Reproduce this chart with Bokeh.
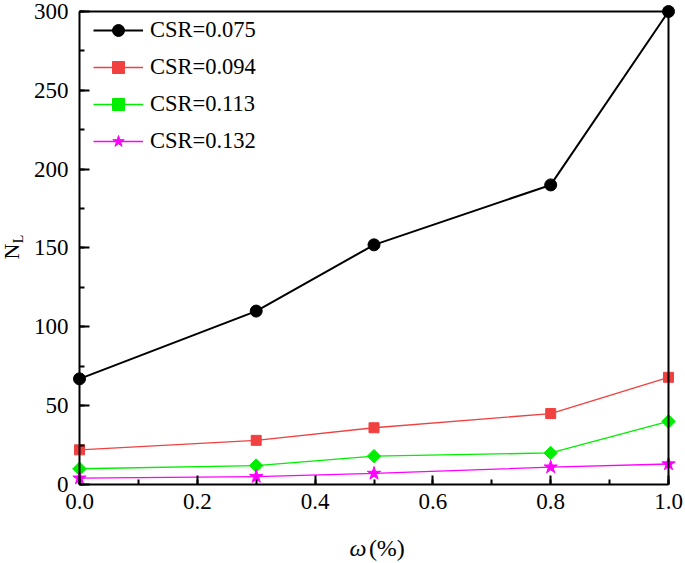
import math
from bokeh.plotting import figure
from bokeh.models import (LinearAxis, Range1d, SingleIntervalTicker, FixedTicker,
                          Legend, LegendItem, Label, CustomLabelingPolicy)
from bokeh.core.properties import value
from bokeh.embed import file_html
from bokeh.resources import INLINE

# ---- data ----
omega = [0.0, 0.3, 0.5, 0.8, 1.0]
csr_labels = ["CSR=0.075", "CSR=0.094", "CSR=0.113", "CSR=0.132"]
nl_075 = [67, 110, 152, 190, 300]
nl_094 = [22, 28, 36, 45, 68]
nl_113 = [10, 12, 18, 20, 40]
nl_132 = [4, 5, 7, 11, 13]
x_ticks = [0.0, 0.2, 0.4, 0.6, 0.8, 1.0]
x_tick_labels = ["0.0", "0.2", "0.4", "0.6", "0.8", "1.0"]
y_ticks = [0, 50, 100, 150, 200, 250, 300]
y_tick_labels = ["0", "50", "100", "150", "200", "250", "300"]
x_min, x_max = 0.0, 1.0
y_min, y_max = 0, 300

FONT = "Liberation Serif"
W, H = 685, 563

# the frame fills the whole canvas; the data box sits inside it
p = figure(width=W, height=H,
           x_range=Range1d(-0.13413, 1.02886), y_range=Range1d(-50.10, 306.97),
           x_axis_type=None, y_axis_type=None,
           output_backend="svg", toolbar_location=None,
           min_border_left=0, min_border_right=0, min_border_top=0, min_border_bottom=0)
p.outline_line_color = None
p.background_fill_color = "white"
p.border_fill_color = "white"

HIDE_ALL = """
for (const i of indices) {
    indices.unset(i)
}
return indices
"""


def style_axis(ax, tick_in=9, minor_in=5):
    ax.axis_line_color = "black"
    ax.axis_line_width = 2
    ax.major_tick_in = tick_in
    ax.major_tick_out = 0
    ax.minor_tick_in = minor_in
    ax.minor_tick_out = 0
    ax.major_tick_line_color = "black"
    ax.minor_tick_line_color = "black"
    ax.major_tick_line_width = 2
    ax.minor_tick_line_width = 2
    ax.major_label_text_font_size = "0px"
    ax.major_label_standoff = 0
    ax.major_label_policy = CustomLabelingPolicy(code=HIDE_ALL)


xax = LinearAxis(ticker=SingleIntervalTicker(interval=0.2, num_minor_ticks=2),
                 fixed_location=y_min, bounds=(x_min, x_max))
style_axis(xax)
p.add_layout(xax, "below")
yax = LinearAxis(ticker=SingleIntervalTicker(interval=50, num_minor_ticks=2),
                 fixed_location=x_min, bounds=(y_min, y_max))
style_axis(yax, tick_in=10)
p.add_layout(yax, "left")
tax = LinearAxis(ticker=FixedTicker(ticks=[]), fixed_location=y_max, bounds=(x_min, x_max))
style_axis(tax)
p.add_layout(tax, "above")
rax = LinearAxis(ticker=FixedTicker(ticks=[]), fixed_location=x_max, bounds=(y_min, y_max))
style_axis(rax)
p.add_layout(rax, "right")

# tick labels
p.text(x=x_ticks, y=[y_min] * len(x_ticks), text=x_tick_labels, y_offset=9,
       text_align="center", text_baseline="top", text_color="black",
       text_font=value(FONT), text_font_size=value("23px"))
p.text(x=[x_min] * len(y_ticks), y=y_ticks, text=y_tick_labels, x_offset=-11,
       text_align="right", text_baseline="middle", text_color="black",
       text_font=value(FONT), text_font_size=value("23px"))

# ---- series ----
series = [
    (nl_075, "black", 2.0, dict(marker="circle", size=12, angle=0)),
    (nl_094, "#F04040", 1.3, dict(marker="square", size=10, angle=0)),
    (nl_113, "#00EE00", 1.3, dict(marker="square", size=9.5, angle=math.pi / 4)),
    (nl_132, "#FF00FF", 1.3, dict(marker="star", size=14, angle=0)),
]
items = []
for (ys, col, lw, mk), lab in zip(series, csr_labels):
    lr = p.line(omega, ys, line_color=col, line_width=lw)
    sr = p.scatter(omega, ys, marker=mk["marker"], size=mk["size"], angle=mk["angle"],
                   fill_color=col, line_color=col, line_width=1)
    items.append(LegendItem(label=lab, renderers=[lr, sr]))

legend = Legend(items=items, location=(93, 407), padding=4, margin=0, spacing=7,
                glyph_width=50, glyph_height=30, label_standoff=7,
                label_text_font=FONT, label_text_font_size="22.5px",
                label_text_color="black",
                border_line_color=None, background_fill_alpha=0)
p.add_layout(legend)

# ---- axis titles ----
p.add_layout(Label(x=-0.11545, y=147.8, text="N", angle=math.pi / 2,
                   text_align="center", text_baseline="alphabetic",
                   text_font=FONT, text_font_size="22px", text_color="black"))
p.add_layout(Label(x=-0.10306, y=155.7, text="L", angle=math.pi / 2,
                   text_align="center", text_baseline="alphabetic",
                   text_font=FONT, text_font_size="14px", text_color="black"))
p.add_layout(Label(x=0.4584, y=-40.0, text="ω", text_font_style="italic",
                   text_align="left", text_baseline="alphabetic",
                   text_font=FONT, text_font_size="24px", text_color="black"))
p.add_layout(Label(x=0.4913, y=-40.0, text="(%)",
                   text_align="left", text_baseline="alphabetic",
                   text_font=FONT, text_font_size="24px", text_color="black"))

open("out.html", "w").write(file_html(p, INLINE))
